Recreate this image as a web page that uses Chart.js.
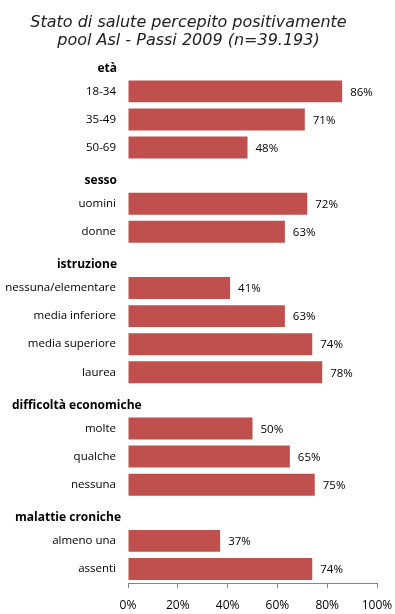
<!DOCTYPE html>
<html>
<head>
<meta charset="utf-8">
<script src="https://cdn.jsdelivr.net/npm/chart.js@4.4.1/dist/chart.umd.min.js"></script>
<style>
  html, body { margin: 0; padding: 0; background: #fff; }
  #wrap { width: 395px; height: 614px; }
</style>
</head>
<body>
<div id="wrap"><canvas id="chart" width="395" height="614"></canvas></div>
<script>
// gruppi e valori (% stato di salute percepito positivamente)
const groups = ['età', 'sesso', 'istruzione', 'difficoltà economiche', 'malattie croniche'];
const etaLabels = ['18-34', '35-49', '50-69'];
const etaValues = [86, 71, 48];
const sessoLabels = ['uomini', 'donne'];
const sessoValues = [72, 63];
const istruzioneLabels = ['nessuna/elementare', 'media inferiore', 'media superiore', 'laurea'];
const istruzioneValues = [41, 63, 74, 78];
const difficoltaLabels = ['molte', 'qualche', 'nessuna'];
const difficoltaValues = [50, 65, 75];
const cronicheLabels = ['almeno una', 'assenti'];
const cronicheValues = [37, 74];
const xTicks = [0, 20, 40, 60, 80, 100];

const groupLabels = [etaLabels, sessoLabels, istruzioneLabels, difficoltaLabels, cronicheLabels];
const groupValues = [etaValues, sessoValues, istruzioneValues, difficoltaValues, cronicheValues];

// ogni gruppo ha una riga vuota per il titolo, poi le sue categorie
const labels = [];
const values = [];
const isHeader = [];
groups.forEach(function (g, i) {
    labels.push(g); values.push(null); isHeader.push(true);
    groupLabels[i].forEach(function (l, j) {
        labels.push(l); values.push(groupValues[i][j]); isHeader.push(false);
    });
});

const labelFont = '"Open Sans", "DejaVu Sans", sans-serif';

// titoli dei gruppi (in grassetto, posizionati come nell'originale)
const headerAnchor = [
    { x: 117, align: 'right' },
    { x: 117, align: 'right' },
    { x: 117, align: 'right' },
    { x: 12, align: 'left' },
    { x: 15, align: 'left' }
];

const extraText = {
    id: 'extraText',
    afterDatasetsDraw(chart) {
        const ctx = chart.ctx;
        const yScale = chart.scales.y;
        ctx.save();
        // titoli gruppi
        ctx.font = 'bold 12px ' + labelFont;
        ctx.fillStyle = '#000';
        ctx.textBaseline = 'middle';
        let h = 0;
        labels.forEach(function (l, i) {
            if (!isHeader[i]) return;
            const a = headerAnchor[h++];
            ctx.textAlign = a.align;
            ctx.fillText(l, a.x, yScale.getPixelForValue(i) + 5);
        });
        // etichette valori
        ctx.font = '11.5px ' + labelFont;
        ctx.textAlign = 'left';
        const meta = chart.getDatasetMeta(0);
        meta.data.forEach(function (bar, i) {
            if (values[i] === null) return;
            ctx.fillText(values[i] + '%', bar.x + 8, bar.y + 1);
        });
        ctx.restore();
    }
};

const chart = new Chart(document.getElementById('chart').getContext('2d'), {
    type: 'bar',
    data: {
        labels: labels,
        datasets: [{
            data: values,
            backgroundColor: '#C0504D',
            barPercentage: 0.78,
            categoryPercentage: 1
        }]
    },
    options: {
        indexAxis: 'y',
        responsive: false,
        animation: false,
        layout: { padding: { top: 12, right: 18, bottom: 0, left: 0 } },
        plugins: {
            legend: { display: false },
            tooltip: { enabled: false },
            title: {
                display: true,
                text: ['Stato di salute percepito positivamente', 'pool Asl - Passi 2009 (n=39.193)'],
                color: '#222',
                font: { family: '"DejaVu Sans", Verdana, sans-serif', size: 16, style: 'italic', weight: 'normal', lineHeight: 1.1 },
                padding: { top: 2, bottom: 0 }
            }
        },
        scales: {
            y: {
                grid: { display: false, drawTicks: false },
                border: { display: false },
                ticks: {
                    autoSkip: false,
                    padding: 12,
                    color: '#000',
                    font: { family: labelFont, size: 11.5 },
                    callback: function (v, i) { return isHeader[i] ? '' : labels[i]; }
                },
                afterFit: function (s) { s.width = 128; }
            },
            x: {
                min: 0,
                max: 100,
                afterBuildTicks: function (s) { s.ticks = xTicks.map(function (v) { return { value: v }; }); },
                grid: { drawOnChartArea: false, drawTicks: true, tickLength: 5, color: '#868686' },
                border: { display: true, color: '#868686' },
                ticks: {
                    padding: 10,
                    color: '#000',
                    font: { family: labelFont, size: 12 },
                    callback: function (v) { return v + '%'; }
                },
                afterFit: function (s) { s.height = 31; s.paddingLeft = 0; s.paddingRight = 0; }
            }
        }
    },
    plugins: [extraText]
});
</script>
</body>
</html>
